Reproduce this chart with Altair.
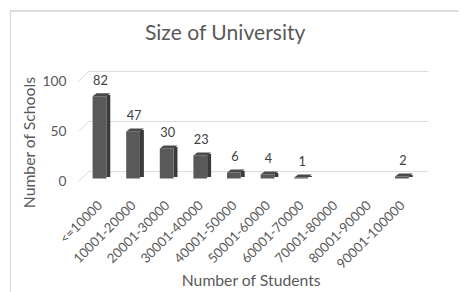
import altair as alt
import pandas as pd

categories = ["<=10000", "10001-20000", "20001-30000", "30001-40000", "40001-50000",
              "50001-60000", "60001-70000", "70001-80000", "80001-90000", "90001-100000"]
schools = [82, 47, 30, 23, 6, 4, 1, 0, 0, 2]
grid_values = [0, 50, 100]

FONT = "Lato"
TXT = "#595959"

df = pd.DataFrame({"range": categories, "count": schools})
df_nz = df[df["count"] > 0]
grid = pd.DataFrame({"v": grid_values})

W, H = 342, 102
PL, PT = 76, 72
PR, PB = 459 - PL - W, 284 - PT - H

xs = alt.X("range:N", sort=categories, title="Number of Students",
           scale=alt.Scale(domain=categories, paddingInner=0.59, paddingOuter=0.295),
           axis=alt.Axis(labelAngle=-45, labelFont=FONT, labelFontSize=13.5, labelColor=TXT,
                         labelPadding=17, labelOffset=-4, domain=False, ticks=False, grid=False,
                         titleFont=FONT, titleFontSize=16, titleColor=TXT, titleFontWeight="normal",
                         titleX=171, titleY=101, titleBaseline="middle"))
ys = alt.Y("count:Q", title="Number of Schools",
           scale=alt.Scale(domain=[0, 100]),
           axis=alt.Axis(values=grid_values, labelFont=FONT, labelFontSize=14, labelColor=TXT,
                         labelPadding=17, domain=False, ticks=False, grid=False,
                         titleFont=FONT, titleFontSize=16, titleColor=TXT, titleFontWeight="normal",
                         titleX=-54, titleY=62, titleBaseline="middle", titleAngle=270))

gy = alt.Y("v:Q", scale=alt.Scale(domain=[0, 100]))
back = alt.Chart(grid).mark_rule(color="#d9d9d9", strokeWidth=1, yOffset=-10).encode(
    y=gy, x=alt.value(6), x2=alt.value(352))
diag = alt.Chart(grid).mark_rule(color="#d9d9d9", strokeWidth=1, y2Offset=-10).encode(
    y=gy, y2="v:Q", x=alt.value(-4), x2=alt.value(6))

border_l = alt.Chart(grid).mark_rule(color="#d9d9d9").encode(
    x=alt.value(-73.5), y=alt.value(-72), y2=alt.value(220))
border_t = alt.Chart(grid).mark_rule(color="#d9d9d9").encode(
    x=alt.value(-74), x2=alt.value(400), y=alt.value(-71.5))

TOP_SHAPE = "M -0.778 0 L 0.778 0 L 1.222 -0.333 L -0.333 -0.333 Z"

side = alt.Chart(df_nz).mark_bar(color="#3a3a3a", size=4, xOffset=9, yOffset=-4.5).encode(x=xs, y=ys)
front = alt.Chart(df_nz).mark_bar(color="#595959", size=14, yOffset=-3).encode(x=xs, y=ys)
top = alt.Chart(df_nz).mark_point(shape=TOP_SHAPE, size=324, filled=True, opacity=1,
                                  color="#4a4a4a", strokeWidth=0, yOffset=-3).encode(x=xs, y=ys)
labels = alt.Chart(df_nz).mark_text(font=FONT, fontSize=13, color="#404040",
                                    baseline="alphabetic", yOffset=-15, dx=1).encode(
    x=xs, y=ys, text="count:Q")

chart = alt.layer(border_l, border_t, back, diag, side, front, top, labels).properties(
    width=W, height=H,
    padding={"left": PL, "top": PT, "right": PR, "bottom": PB},
    autosize=alt.AutoSizeParams(type="none"),
    title=alt.TitleParams("Size of University", font=FONT, fontSize=21.5, color=TXT,
                          fontWeight="normal", anchor="middle", frame="group", dx=-26,
                          offset=-57, baseline="bottom"),
).configure_view(stroke=None)

chart.save("out.html", embed_options={"renderer": "svg", "actions": False})
